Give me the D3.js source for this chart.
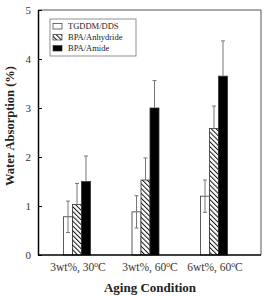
<!DOCTYPE html>
<html>
<head>
<script src="https://d3js.org/d3.v7.min.js"></script>
<style>
  body { margin: 0; background: #fff; }
  text { font-family: "Liberation Serif", "Times New Roman", serif; }
</style>
</head>
<body>
<svg id="chart" width="266" height="296"></svg>
<script>
// data
var conditions = ["3wt%, 30ºC", "3wt%, 60ºC", "6wt%, 60ºC"];
var series = ["TGDDM/DDS", "BPA/Anhydride", "BPA/Amide"];
var tgddm = [0.78, 0.88, 1.20];
var tgddmErr = [0.32, 0.33, 0.33];
var anhydride = [1.03, 1.53, 2.58];
var anhydrideErr = [0.43, 0.45, 0.46];
var amide = [1.50, 3.00, 3.65];
var amideErr = [0.52, 0.56, 0.72];
var yTicks = [0, 1, 2, 3, 4, 5];

var values = [tgddm, anhydride, amide];
var errs = [tgddmErr, anhydrideErr, amideErr];

var svg = d3.select("#chart");
var plotL = 38, plotR = 261, plotT = 10, plotB = 255;

var y = d3.scaleLinear().domain([0, 5]).range([plotB, plotT]);
var x = d3.scalePoint().domain(conditions).range([77, 214]);
var sub = d3.scaleBand().domain(series).range([-13.5, 13.5]);

// hatch pattern for BPA/Anhydride ("\\\" direction)
var defs = svg.append("defs");
var pat = defs.append("pattern")
    .attr("id", "hatch")
    .attr("patternUnits", "userSpaceOnUse")
    .attr("width", 3.4).attr("height", 3.4)
    .attr("patternTransform", "rotate(-45)");
pat.append("rect").attr("width", 3.4).attr("height", 3.4).attr("fill", "#fff");
pat.append("line").attr("x1", 0).attr("y1", 0).attr("x2", 0).attr("y2", 3.4)
    .attr("stroke", "#111").attr("stroke-width", 2);

var fills = ["#fff", "url(#hatch)", "#000"];

// bars
var rows = [];
series.forEach(function (s, si) {
    conditions.forEach(function (c, ci) {
        rows.push({s: s, si: si, c: c, v: values[si][ci], e: errs[si][ci]});
    });
});

svg.selectAll("rect.bar").data(rows).enter().append("rect")
    .attr("class", "bar")
    .attr("x", function (d) { return x(d.c) + sub(d.s); })
    .attr("y", function (d) { return y(d.v); })
    .attr("width", sub.bandwidth())
    .attr("height", function (d) { return y(0) - y(d.v); })
    .attr("fill", function (d) { return fills[d.si]; })
    .attr("stroke", "#333")
    .attr("stroke-width", 0.8);

// error bars (only the open bars show the lower half)
function cx(d) { return x(d.c) + sub(d.s) + sub.bandwidth() / 2; }
var eb = svg.selectAll("g.err").data(rows).enter().append("g")
    .attr("class", "err")
    .attr("stroke", "#777").attr("stroke-width", 1);
eb.append("line")
    .attr("x1", cx).attr("x2", cx)
    .attr("y1", function (d) { return d.si === 0 ? y(d.v - d.e) : y(d.v); })
    .attr("y2", function (d) { return y(d.v + d.e); });
eb.append("line")
    .attr("x1", function (d) { return cx(d) - 2; })
    .attr("x2", function (d) { return cx(d) + 2; })
    .attr("y1", function (d) { return y(d.v + d.e); })
    .attr("y2", function (d) { return y(d.v + d.e); });
eb.filter(function (d) { return d.si === 0; }).append("line")
    .attr("x1", function (d) { return cx(d) - 2; })
    .attr("x2", function (d) { return cx(d) + 2; })
    .attr("y1", function (d) { return y(d.v - d.e); })
    .attr("y2", function (d) { return y(d.v - d.e); });

// frame
svg.append("line").attr("x1", plotL).attr("x2", plotR).attr("y1", plotT).attr("y2", plotT)
    .attr("stroke", "#555").attr("stroke-width", 1);
svg.append("line").attr("x1", plotR).attr("x2", plotR).attr("y1", plotT).attr("y2", plotB)
    .attr("stroke", "#555").attr("stroke-width", 1);

// y axis with inward ticks
var yAxis = svg.append("g").attr("transform", "translate(" + plotL + ",0)")
    .call(d3.axisLeft(y).tickValues(yTicks).tickFormat(d3.format("d"))
        .tickSizeInner(-4).tickSizeOuter(0).tickPadding(7));
yAxis.select(".domain").attr("stroke", "#000").attr("stroke-width", 1.5);
yAxis.selectAll("text").attr("font-size", 11).attr("fill", "#333")
    .attr("font-family", "Liberation Serif, serif");

// x axis: baseline + category labels
var xAxis = svg.append("g").attr("transform", "translate(0," + plotB + ")")
    .call(d3.axisBottom(x).tickSize(0).tickPadding(8));
xAxis.select(".domain").attr("d", "M" + plotL + ",0H" + plotR)
    .attr("stroke", "#000").attr("stroke-width", 1.5);
xAxis.selectAll(".tick").attr("transform", function (d, i) {
    return "translate(" + [78, 150, 215][i] + ",0)";
});
xAxis.selectAll("text").attr("font-size", 11.5).attr("fill", "#333")
    .attr("font-family", "Liberation Serif, serif")
    .each(function (d) {
        var t = d3.select(this);
        var parts = d.split("º");
        t.text(parts[0]);
        t.append("tspan").attr("baseline-shift", "super").attr("font-size", 7.5).text("o");
        t.append("tspan").text(parts[1]);
    });

// axis titles
svg.append("text")
    .attr("transform", "translate(14,126) rotate(-90)")
    .attr("text-anchor", "middle")
    .attr("font-size", 12.5).attr("font-weight", "bold").attr("fill", "#222")
    .text("Water Absorption (%)");
svg.append("text")
    .attr("x", 150).attr("y", 292)
    .attr("text-anchor", "middle")
    .attr("font-size", 13).attr("font-weight", "bold").attr("fill", "#222")
    .text("Aging Condition");

// legend
var lg = svg.append("g").attr("transform", "translate(50,19)");
lg.append("rect").attr("width", 86).attr("height", 37)
    .attr("fill", "#fff").attr("stroke", "#777").attr("stroke-width", 0.8);
var items = lg.selectAll("g.item").data(series).enter().append("g")
    .attr("class", "item")
    .attr("transform", function (d, i) { return "translate(3," + (7 + i * 11) + ")"; });
items.append("rect").attr("y", -2.5).attr("width", 9).attr("height", 5.5)
    .attr("fill", function (d, i) { return fills[i]; })
    .attr("stroke", "#333").attr("stroke-width", 0.7);
items.append("text").attr("x", 15).attr("y", 3)
    .attr("font-size", 8.5).attr("fill", "#222")
    .text(function (d) { return d; });
</script>
</body>
</html>
